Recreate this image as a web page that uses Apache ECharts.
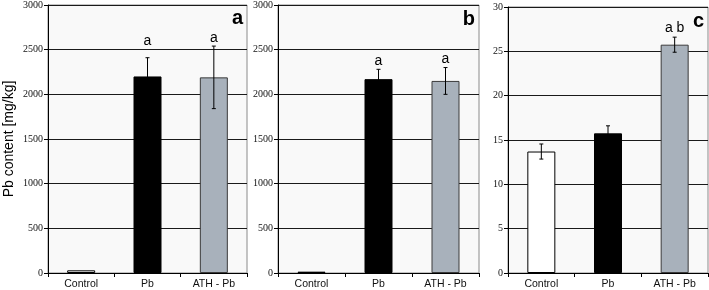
<!DOCTYPE html>
<html>
<head>
<meta charset="utf-8">
<script src="https://cdn.jsdelivr.net/npm/echarts@6/dist/echarts.min.js"></script>
<style>
  html, body { margin: 0; padding: 0; background: #fff; }
  #chart { width: 709px; height: 290px; }
</style>
</head>
<body>
<div id="chart"></div>
<script>
'use strict';
// Pb content in three panels (a, b, c)
const categories = ['Control', 'Pb', 'ATH - Pb'];

const meanA = [30, 2200, 2190];
const errA = [0, 210, 350];
const lettersA = ['', 'a', 'a'];
const letterPosA = [0, 2600, 2630];

const meanB = [15, 2170, 2150];
const errB = [0, 110, 150];
const lettersB = ['', 'a', 'a'];
const letterPosB = [0, 2370, 2390];

const meanC = [13.7, 15.75, 25.75];
const errC = [0.85, 0.85, 0.85];
const lettersC = ['', '', 'a b'];
const letterPosC = [0, 0, 27.6];

const ticksAB = { min: 0, max: 3000, interval: 500 };
const ticksC = { min: 0, max: 30, interval: 5 };
const panelNames = ['a', 'b', 'c'];

const BAR_COLORS = ['#ffffff', '#000000', '#a8b1bb'];
const BAR_BORDERS = ['#000000', '#000000', '#3a3a3a'];

const panels = [
  { mean: meanA, err: errA, letters: lettersA, letterPos: letterPosA, ticks: ticksAB, grid: { left: 48, top: 4, width: 199, height: 269 } },
  { mean: meanB, err: errB, letters: lettersB, letterPos: letterPosB, ticks: ticksAB, grid: { left: 278, top: 5, width: 201, height: 270 } },
  { mean: meanC, err: errC, letters: lettersC, letterPos: letterPosC, ticks: ticksC, grid: { left: 508, top: 7, width: 200, height: 270 } }
];

const chart = echarts.init(document.getElementById('chart'), null, { renderer: 'canvas' });

const grids = [], xAxes = [], yAxes = [], series = [], graphics = [];

panels.forEach((p, i) => {
  grids.push(Object.assign({ show: true, backgroundColor: '#f9f9f9', borderColor: '#8a8a8a', borderWidth: 1 }, p.grid));
  xAxes.push({
    type: 'category', gridIndex: i, data: categories,
    axisLine: { lineStyle: { color: '#000', width: 1 } },
    axisTick: { show: true, length: 4, lineStyle: { color: '#000' } },
    axisLabel: { color: '#111', fontFamily: 'Liberation Sans', fontSize: 10.5, margin: 6 }
  });
  yAxes.push({
    type: 'value', gridIndex: i, min: p.ticks.min, max: p.ticks.max, interval: p.ticks.interval,
    name: i === 0 ? 'Pb content [mg/kg]' : '', nameLocation: 'middle', nameGap: 32,
    nameTextStyle: { color: '#000', fontFamily: 'Liberation Sans', fontSize: 14 },
    axisLine: { show: true, lineStyle: { color: '#000', width: 1 } },
    axisTick: { show: true, length: 4, lineStyle: { color: '#000' } },
    axisLabel: { color: '#111', fontFamily: 'Liberation Sans Narrow', fontSize: 10, margin: 5, formatter: (v) => String(v) },
    splitLine: { show: true, lineStyle: { color: '#1a1a1a', width: 1.2 } }
  });
  series.push({
    type: 'bar', xAxisIndex: i, yAxisIndex: i, barWidth: 28,
    data: p.mean.map((v, k) => ({ value: v, itemStyle: { color: BAR_COLORS[k], borderColor: BAR_BORDERS[k], borderWidth: 1 } })),
    z: 3
  });
  // error bars
  series.push({
    type: 'custom', xAxisIndex: i, yAxisIndex: i, z: 4,
    data: p.mean.map((v, k) => [k, v - p.err[k], v + p.err[k]]),
    renderItem: (params, api) => {
      if (!p.err[params.dataIndex]) return null;
      const lo = api.coord([api.value(0), api.value(1)]);
      const hi = api.coord([api.value(0), api.value(2)]);
      const c = 2;
      const st = { stroke: '#000', lineWidth: 1 };
      return { type: 'group', children: [
        { type: 'line', shape: { x1: hi[0], y1: hi[1], x2: lo[0], y2: lo[1] }, style: st },
        { type: 'line', shape: { x1: hi[0] - c, y1: hi[1], x2: hi[0] + c, y2: hi[1] }, style: st },
        { type: 'line', shape: { x1: lo[0] - c, y1: lo[1], x2: lo[0] + c, y2: lo[1] }, style: st }
      ] };
    }
  });
  // significance letters
  series.push({
    type: 'custom', xAxisIndex: i, yAxisIndex: i, z: 5,
    data: p.letterPos.map((v, k) => [k, v]),
    renderItem: (params, api) => {
      const t = p.letters[params.dataIndex];
      if (!t) return null;
      const pt = api.coord([api.value(0), api.value(1)]);
      return { type: 'text', x: pt[0], y: pt[1], style: { text: t, fill: '#000', font: '14px "Liberation Sans"', align: 'center', verticalAlign: 'middle' } };
    }
  });
  graphics.push({
    type: 'text', right: 709 - (p.grid.left + p.grid.width) + 4, top: p.grid.top + 4,
    style: { text: panelNames[i], fill: '#000', font: 'bold 20px "Liberation Sans"' }
  });
});

chart.setOption({
  animation: false,
  backgroundColor: '#ffffff',
  grid: grids,
  xAxis: xAxes,
  yAxis: yAxes,
  series: series,
  graphic: graphics
});
</script>
</body>
</html>
